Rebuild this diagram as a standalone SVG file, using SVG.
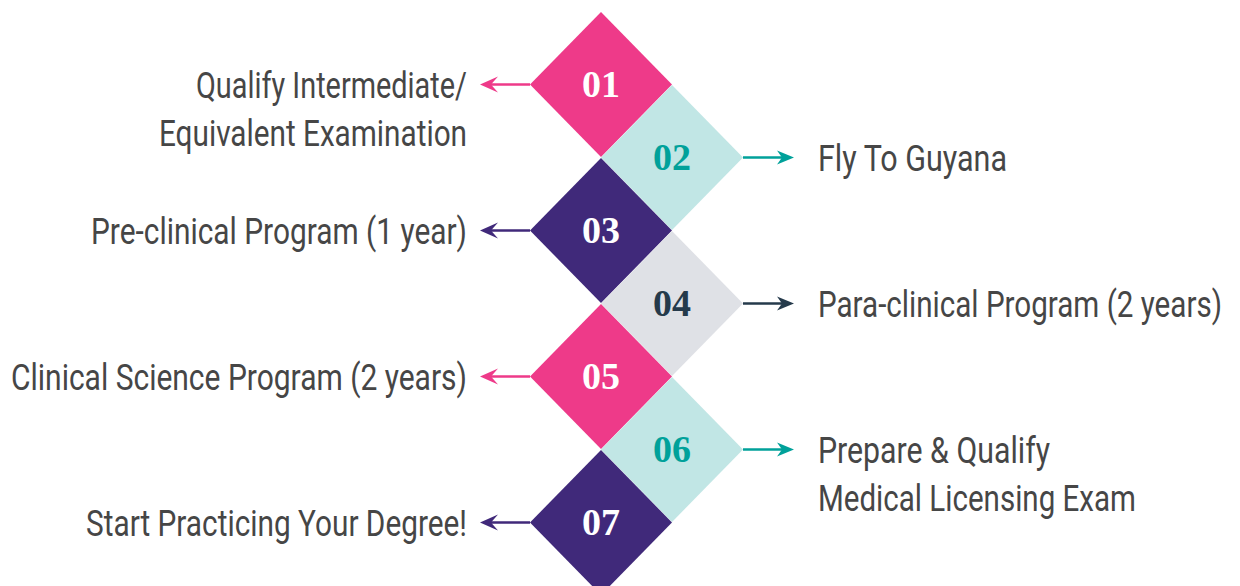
<svg xmlns="http://www.w3.org/2000/svg" width="1240" height="586" viewBox="0 0 1240 586">
<style>
.lbl{font-family:"Roboto","Liberation Sans",sans-serif;font-size:36px;fill:#464646;}
.l{text-anchor:end;}
.num{font-family:"Liberation Serif","Times New Roman",serif;font-weight:bold;font-size:38px;text-anchor:middle;}
.w{fill:#ffffff;}
</style>
<defs>
<path id="hl" d="M0,0 L18,-8 L11,0 L18,8 Z"/>
<path id="hr" d="M0,0 L-17,-7 L-12,0 L-17,7 Z"/>
</defs>
<g id="connectors" stroke-width="2.5">
<line x1="530" y1="84.5" x2="488" y2="84.5" stroke="#ee3a89"/>
<use href="#hl" x="480" y="84.5" fill="#ee3a89"/>
<line x1="743" y1="157.5" x2="786" y2="157.5" stroke="#00a19a"/>
<use href="#hr" x="794" y="157.5" fill="#00a19a"/>
<line x1="530" y1="230.5" x2="488" y2="230.5" stroke="#40297a"/>
<use href="#hl" x="480" y="230.5" fill="#40297a"/>
<line x1="743" y1="303.5" x2="786" y2="303.5" stroke="#253a4b"/>
<use href="#hr" x="794" y="303.5" fill="#253a4b"/>
<line x1="530" y1="376.5" x2="488" y2="376.5" stroke="#ee3a89"/>
<use href="#hl" x="480" y="376.5" fill="#ee3a89"/>
<line x1="743" y1="449.5" x2="786" y2="449.5" stroke="#00a19a"/>
<use href="#hr" x="794" y="449.5" fill="#00a19a"/>
<line x1="530" y1="522.5" x2="488" y2="522.5" stroke="#40297a"/>
<use href="#hl" x="480" y="522.5" fill="#40297a"/>
</g>
<g id="step01">
<polygon points="601,12 672,84.5 601,157 530,84.5" fill="#ee3a89"/>
<text class="num w" x="601" y="97">01</text>
<text class="lbl l" x="467" y="98" textLength="271" lengthAdjust="spacingAndGlyphs">Qualify Intermediate/</text>
<text class="lbl l" x="467" y="146" textLength="308" lengthAdjust="spacingAndGlyphs">Equivalent Examination</text>
</g>
<g id="step02">
<polygon points="672,85 743,157.5 672,230 601,157.5" fill="#c1e6e5"/>
<text class="num" x="672" y="170" fill="#00a19a">02</text>
<text class="lbl" x="818" y="171" textLength="189" lengthAdjust="spacingAndGlyphs">Fly To Guyana</text>
</g>
<g id="step03">
<polygon points="601,158 672,230.5 601,303 530,230.5" fill="#40297a"/>
<text class="num w" x="601" y="243">03</text>
<text class="lbl l" x="467" y="244" textLength="376" lengthAdjust="spacingAndGlyphs">Pre-clinical Program (1 year)</text>
</g>
<g id="step04">
<polygon points="672,231 743,303.5 672,376 601,303.5" fill="#dfe1e6"/>
<text class="num" x="672" y="316" fill="#253a4b">04</text>
<text class="lbl" x="818" y="317" textLength="404" lengthAdjust="spacingAndGlyphs">Para-clinical Program (2 years)</text>
</g>
<g id="step05">
<polygon points="601,304 672,376.5 601,449 530,376.5" fill="#ee3a89"/>
<text class="num w" x="601" y="389">05</text>
<text class="lbl l" x="467" y="390" textLength="456" lengthAdjust="spacingAndGlyphs">Clinical Science Program (2 years)</text>
</g>
<g id="step06">
<polygon points="672,377 743,449.5 672,522 601,449.5" fill="#c1e6e5"/>
<text class="num" x="672" y="462" fill="#00a19a">06</text>
<text class="lbl" x="818" y="463" textLength="232" lengthAdjust="spacingAndGlyphs">Prepare &amp; Qualify</text>
<text class="lbl" x="818" y="511" textLength="318" lengthAdjust="spacingAndGlyphs">Medical Licensing Exam</text>
</g>
<g id="step07">
<polygon points="601,450 672,522.5 601,595 530,522.5" fill="#40297a"/>
<text class="num w" x="601" y="535">07</text>
<text class="lbl l" x="467" y="536" textLength="381" lengthAdjust="spacingAndGlyphs">Start Practicing Your Degree!</text>
</g>
</svg>
